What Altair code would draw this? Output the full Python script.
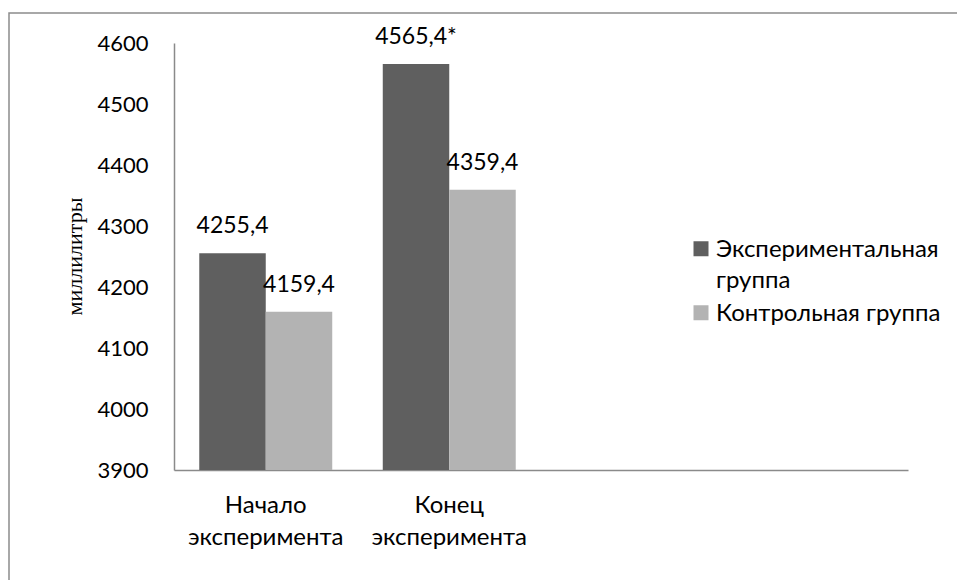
import altair as alt
import pandas as pd

categories = ["Начало эксперимента", "Конец эксперимента"]
empty_slots = ["", " "]
groups = ["Экспериментальная группа", "Контрольная группа"]
experimental = [4255.4, 4565.4]
control = [4159.4, 4359.4]
experimental_marks = ["", "*"]
control_marks = ["", ""]
colors = ["#5f5f5f", "#b3b3b3"]
y_ticks = [3900, 4000, 4100, 4200, 4300, 4400, 4500, 4600]
y_title = "миллилитры"

rows = []
for i, c in enumerate(categories):
    for g, vals, marks in [(groups[0], experimental, experimental_marks),
                           (groups[1], control, control_marks)]:
        rows.append({
            "category": c,
            "group": g,
            "value": vals[i],
            "label": f"{vals[i]:.1f}".replace(".", ",") + marks[i],
        })
df = pd.DataFrame(rows)

FONT = "Lato"

x_enc = alt.X(
    "category:N",
    sort=None,
    scale=alt.Scale(domain=categories + empty_slots, paddingInner=0, paddingOuter=0),
    axis=alt.Axis(
        title=None,
        labelExpr="split(datum.label, ' ')",
        labelAngle=0,
        labelFont=FONT,
        labelFontSize=24,
        labelColor="#000000",
        labelLineHeight=32,
        labelPadding=23,
        labelBaseline="top",
        ticks=False,
        domainColor="#8a8a8a",
        domainWidth=1.5,
        grid=False,
    ),
)
xoff_enc = alt.XOffset(
    "group:N",
    sort=groups,
    scale=alt.Scale(domain=groups, paddingOuter=0.38, paddingInner=0),
)
y_enc = alt.Y(
    "value:Q",
    scale=alt.Scale(domain=[y_ticks[0], y_ticks[-1]], zero=False, nice=False),
    axis=alt.Axis(
        title=y_title,
        titleFont="Liberation Serif",
        titleFontSize=22,
        titleFontWeight="normal",
        titleColor="#000000",
        titleAngle=270,
        titleX=-93,
        titleY=213,
        titleAlign="center",
        titleBaseline="alphabetic",
        values=y_ticks,
        format="d",
        labelFont=FONT,
        labelFontSize=22,
        labelColor="#000000",
        labelPadding=26,
        ticks=False,
        domainColor="#8a8a8a",
        domainWidth=1.5,
        grid=False,
    ),
)

bars = alt.Chart(df).mark_bar().encode(
    x=x_enc,
    xOffset=xoff_enc,
    y=y_enc,
    y2=alt.datum(y_ticks[0]),
    color=alt.Color(
        "group:N",
        sort=groups,
        scale=alt.Scale(domain=groups, range=colors),
        legend=alt.Legend(
            title=None,
            orient="none",
            legendX=515,
            legendY=202,
            labelFont=FONT,
            labelFontSize=24,
            labelColor="#000000",
            labelLimit=400,
            labelBaseline="alphabetic",
            labelOffset=3,
            labelExpr="length(datum.label) > 20 ? split(datum.label, ' ') : datum.label",
            symbolType="M-1,-2.1H1V-0.1H-1Z",
            symbolSize=225,
            symbolStrokeWidth=0,
            symbolOpacity=1,
            rowPadding=9,
        ),
    ),
)

labels = alt.Chart(df).mark_text(
    font=FONT, fontSize=23, color="#000000", baseline="middle", align="center", dy=-27
).encode(
    x=x_enc,
    xOffset=xoff_enc,
    y=y_enc,
    text="label:N",
)

border = alt.Chart(alt.Data(values=[{"k": 1}])).mark_rect(
    filled=False, stroke="#8c8c8c", strokeWidth=1.5
).encode(
    x=alt.value(-165), x2=alt.value(800), y=alt.value(-30), y2=alt.value(560)
)

chart = alt.layer(border, bars, labels).properties(
    width=734,
    height=427,
    padding={"left": 174, "top": 43, "right": 49, "bottom": 110},
    autosize="none",
    background="#ffffff",
).configure(
    style={"guide-label": {"lineHeight": 31}}
).configure_view(stroke=None)

chart.save("out.html", embed_options={"renderer": "svg", "actions": False})
